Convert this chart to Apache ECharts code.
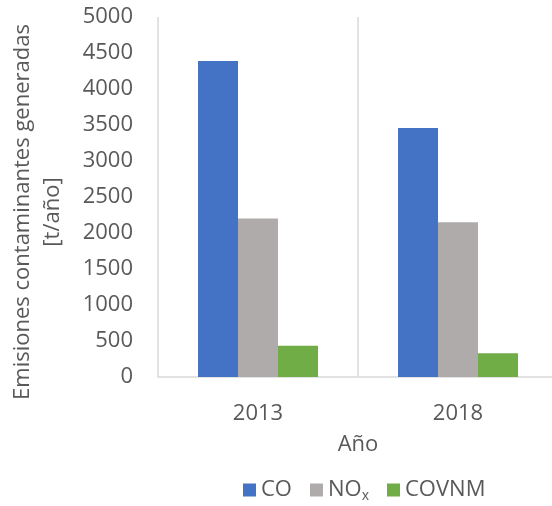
<!DOCTYPE html>
<html>
<head>
<meta charset="utf-8">
<script src="https://cdn.jsdelivr.net/npm/echarts@6/dist/echarts.min.js"></script>
<style>html,body{margin:0;padding:0;background:#fff}#c{width:552px;height:506px}</style>
</head>
<body>
<div id="c"></div>
<script>
const categories = ['2013', '2018'];
const seriesNames = ['CO', 'NOx', 'COVNM'];
const coValues = [4390, 3460];
const noxValues = [2200, 2150];
const covnmValues = [435, 330];
const yTicks = [0, 500, 1000, 1500, 2000, 2500, 3000, 3500, 4000, 4500, 5000];

const FONT = 'Open Sans';
const TXT = '#595959';
const FS = 22;
const chart = echarts.init(document.getElementById('c'));
chart.setOption({
  animation: false,
  backgroundColor: '#ffffff',
  textStyle: { fontFamily: FONT },
  grid: { left: 158, top: 17, width: 400, height: 360, outerBoundsMode: 'none', containLabel: false },
  legend: {
    bottom: -2,
    left: 238,
    icon: 'rect',
    itemWidth: 13,
    itemHeight: 13,
    itemGap: 18,
    data: seriesNames,
    textStyle: {
      fontFamily: FONT, fontSize: FS, color: TXT,
      rich: {
        sub: { fontFamily: FONT, fontSize: 14, color: TXT, verticalAlign: 'bottom', padding: [12, 0, 0, 0] }
      }
    },
    formatter: function (n) { return n === 'NOx' ? 'NO{sub|x}' : n; }
  },
  xAxis: {
    type: 'category',
    data: categories,
    name: 'Año',
    nameLocation: 'middle',
    nameGap: 57,
    nameTextStyle: { fontFamily: FONT, fontSize: FS, color: TXT },
    axisLine: { show: true, lineStyle: { color: '#D9D9D9', width: 1.5 } },
    axisTick: { show: false },
    axisLabel: { fontFamily: FONT, fontSize: FS, color: TXT, margin: 26 },
    splitLine: { show: true, lineStyle: { color: '#D9D9D9', width: 1.5 } }
  },
  yAxis: {
    type: 'value',
    min: 0,
    max: 5000,
    interval: 500,
    name: 'Emisiones contaminantes generadas\n[t/año]',
    nameLocation: 'middle',
    nameGap: 90,
    nameTextStyle: { fontFamily: FONT, fontSize: FS, color: TXT, lineHeight: 30, padding: [0, 30, 0, 0] },
    axisLine: { show: false },
    axisTick: { show: false },
    splitLine: { show: false },
    axisLabel: {
      fontFamily: FONT, fontSize: FS, color: TXT, margin: 25,
      formatter: function (v) { return yTicks.indexOf(v) >= 0 ? String(v) : ''; }
    }
  },
  series: [
    { name: seriesNames[0], type: 'bar', data: coValues, barWidth: 40, barGap: '0%', itemStyle: { color: '#4472C4' } },
    { name: seriesNames[1], type: 'bar', data: noxValues, barWidth: 40, barGap: '0%', itemStyle: { color: '#AFABAB' } },
    { name: seriesNames[2], type: 'bar', data: covnmValues, barWidth: 40, barGap: '0%', itemStyle: { color: '#70AD47' } }
  ]
});
</script>
</body>
</html>
